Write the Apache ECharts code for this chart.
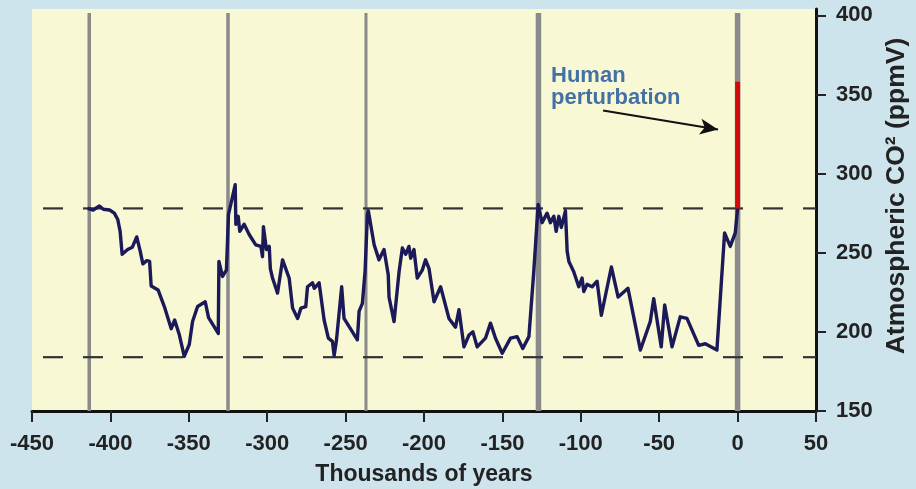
<!DOCTYPE html>
<html>
<head>
<meta charset="utf-8">
<script src="https://cdn.jsdelivr.net/npm/echarts@6/dist/echarts.min.js"></script>
<style>
  html, body {margin: 0; padding: 0; background: #cde4ec;}
  #chart {width: 916px; height: 489px;}
</style>
</head>
<body>
<div id="chart"></div>
<script>
// Vostok ice core CO2 record, thousands of years before present vs ppmV
const years = [
  -414.5, -411, -407, -404.5, -400.5, -397.5, -395.3, -393.8, -392.5, -389, -386, -383.2, -381, -379.3,
  -376.8, -375, -374, -369.6, -365.6, -361.2, -359, -356, -352.9, -349.7, -347.6, -344.4, -339.5, -337.4,
  -331.2, -330.8, -328.5, -326, -324.7, -320.4, -320, -318.5, -317.5, -314.7, -311.5, -307.3, -304, -303,
  -302.4, -300.5, -298.7, -298, -296.6, -293.4, -290.2, -286, -283.8, -280.6, -278.5, -275.4, -274.3,
  -271.1, -270, -266.9, -263.7, -261, -258.4, -257.3, -255.9, -252.5, -251, -242.5, -241.4, -239.3, -237.6,
  -236.1, -235.5, -231.8, -228.7, -225.5, -222.8, -222.3, -219.1, -215.9, -213.8, -211.7, -209.6, -208.5,
  -206.4, -204.3, -201.1, -199, -196.8, -193.6, -189.4, -184.1, -179.9, -177.7, -174.5, -171.3, -168.8,
  -166.1, -160.8, -157.6, -154.4, -150.1, -144.8, -140.6, -137, -133.1, -130, -127.2, -124.7, -121.5,
  -119.4, -117.2, -115.7, -114, -112.4, -109.8, -108.7, -107.6, -104.5, -101.3, -99.2, -98.1, -96, -92.8,
  -89.6, -86.9, -80.5, -76.2, -69.9, -62, -55.7, -53.5, -48.7, -46.5, -41.8, -36.6, -32.3, -24.8, -20.6,
  -13.2, -8.3, -4.7, -1.5, 0
];
const co2 = [
  278, 277, 279.5, 277.5, 277, 275, 271, 263.5, 249, 252, 253.5, 260, 251, 243,
  245, 244.5, 229, 226.5, 216, 202, 207.5, 198, 184.5, 192, 206.5, 216, 219, 209,
  199, 244.5, 235, 239, 274, 293, 268, 273, 263.5, 268, 261.5, 255, 254, 247.5,
  266.5, 252, 254, 240, 234, 224.5, 245.5, 234, 215, 208.5, 215, 216, 228.5,
  231, 227.5, 231, 207.5, 196, 194, 185, 194, 228.5, 208.5, 195, 213, 218, 238,
  274, 276.5, 255, 245.5, 252, 236, 222, 206.5, 238, 253, 249, 254, 246.5,
  252, 234, 239, 245.5, 240, 219, 228.5, 208.5, 203, 214, 190.5, 198, 200,
  190.5, 196, 205.5, 196, 186.5, 196, 197, 189.5, 197, 238, 280.5, 269, 275,
  269, 273, 263.5, 273, 266, 276.5, 251, 244.5, 238, 228.5, 234, 225.5, 230, 228.5,
  232, 210.5, 241, 222, 227.5, 188.5, 206.5, 221, 190.5, 217, 190.5, 209.5, 208.5, 191.5, 192.5,
  188.5, 262.5, 254, 262.5, 278
];

// recent rise (human perturbation)
const humanYears = [0, 0];
const humanCo2 = [278, 358];

// interglacial markers and reference levels
const markerYears = [-413.5, -325, -237, -127, 0];
const markerWidths = [3.5, 3.5, 3, 5.5, 5.5];
const levels = [278, 184];

// annotation: text anchor and arrow (data units)
const noteAt = [-119, 355];
const arrowFrom = [-85.8, 339.8];
const arrowTo = [-12.5, 327.8];

const xTicks = [-450, -400, -350, -300, -250, -200, -150, -100, -50, 0, 50];
const yTicks = [150, 200, 250, 300, 350, 400];

const chart = echarts.init(document.getElementById('chart'));

const series = [];

markerYears.forEach((yr, i) => {
    series.push({
        type: 'line',
        data: [[yr, 150], [yr, 401.5]],
        showSymbol: false,
        silent: true,
        lineStyle: {color: '#8a8a8a', width: markerWidths[i], cap: 'butt'},
        z: 1
    });
});

levels.forEach(lv => {
    series.push({
        type: 'line',
        data: [[-450, lv], [50, lv]],
        showSymbol: false,
        silent: true,
        lineStyle: {color: '#333', width: 2.2, type: [20, 20], dashOffset: 29},
        z: 1
    });
});

series.push({
    name: 'Vostok CO2',
    type: 'line',
    data: years.map((y, i) => [y, co2[i]]),
    showSymbol: false,
    lineStyle: {color: '#1b1957', width: 3.4, join: 'round'},
    z: 3
});

series.push({
    name: 'Human perturbation',
    type: 'line',
    data: humanYears.map((y, i) => [y, humanCo2[i]]),
    showSymbol: false,
    lineStyle: {color: '#d10a0a', width: 5, cap: 'butt'},
    z: 4,
    markLine: {
        silent: true,
        symbol: ['none', 'arrow'],
        symbolSize: [12, 18],
        label: {show: false},
        lineStyle: {color: '#111', width: 2, type: 'solid'},
        data: [[{coord: arrowFrom}, {coord: arrowTo}]]
    }
});

series.push({
    type: 'scatter',
    data: [noteAt],
    symbolSize: 0,
    silent: true,
    label: {
        show: true,
        position: 'right',
        distance: 0,
        formatter: 'Human\nperturbation',
        color: '#174f98',
        fontSize: 22,
        lineHeight: 22,
        fontWeight: 'bold',
        fontFamily: 'Liberation Sans'
    },
    z: 5
});

chart.setOption({
    animation: false,
    backgroundColor: '#cde4ec',
    textStyle: {fontFamily: 'Liberation Sans'},
    grid: {
        left: 32, right: 100, top: 9, bottom: 78,
        outerBoundsMode: 'none',
        show: true, backgroundColor: '#f8f8d5', borderWidth: 0
    },
    xAxis: {
        type: 'value',
        min: -450, max: 50, interval: 50,
        name: 'Thousands of years',
        nameLocation: 'middle',
        nameGap: 52,
        nameTextStyle: {fontSize: 23, fontWeight: 'bold', color: '#222'},
        axisLine: {onZero: false, lineStyle: {color: '#111', width: 3}},
        axisTick: {length: 11, lineStyle: {color: '#222', width: 2}},
        axisLabel: {
            fontSize: 22, fontWeight: 'bold', color: '#222', margin: 22,
            customValues: xTicks
        },
        splitLine: {show: false}
    },
    yAxis: {
        type: 'value',
        position: 'right',
        min: 150, max: 404,
        name: 'Atmospheric CO² (ppmV)',
        nameLocation: 'middle',
        nameRotate: 90,
        nameGap: 67,
        nameTextStyle: {fontSize: 26.5, fontWeight: 'bold', color: '#222', padding: [0, 0, 0, 28]},
        axisLine: {show: true, onZero: false, lineStyle: {color: '#111', width: 3}},
        axisTick: {show: true, length: 10, lineStyle: {color: '#222', width: 2}, customValues: yTicks},
        axisLabel: {
            fontSize: 22, fontWeight: 'bold', color: '#222', margin: 20,
            customValues: yTicks
        },
        splitLine: {show: false}
    },
    series: series
});
</script>
</body>
</html>
